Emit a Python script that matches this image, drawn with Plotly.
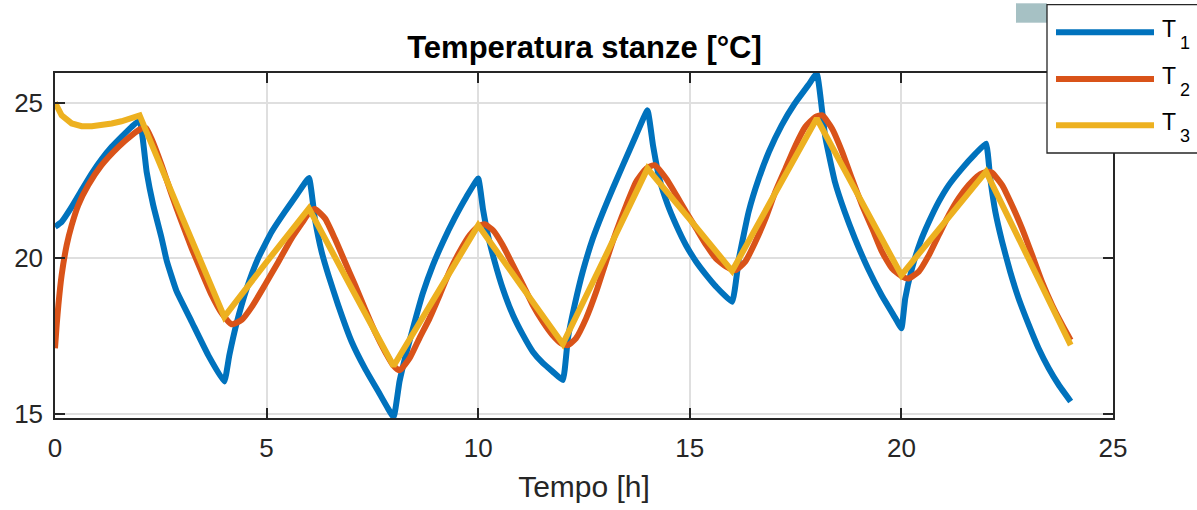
import plotly.graph_objects as go

# Room temperatures over one day (hours, degrees C)
t1 = [0, 0.157, 0.394, 0.63, 0.866, 1.10, 1.34, 1.57, 1.81, 2.0,
      2.165, 2.32, 2.52, 2.64, 2.87, 3.23, 3.62, 4.0,
      4.12, 4.30, 4.53, 4.80, 5.12, 5.43, 5.71, 6.0,
      6.14, 6.30, 6.46, 6.69, 7.01, 7.32, 7.64, 8.0,
      8.14, 8.30, 8.50, 8.69, 8.93, 9.17, 9.44, 9.72, 10.0,
      10.11, 10.23, 10.39, 10.58, 10.82, 11.06, 11.29, 11.53, 11.76, 12.0,
      12.12, 12.28, 12.47, 12.71, 12.95, 13.18, 13.42, 13.73, 14.0,
      14.13, 14.28, 14.48, 14.68, 14.91, 15.15, 15.39, 15.62, 16.0,
      16.16, 16.39, 16.63, 16.87, 17.17, 17.48, 17.80, 18.0,
      18.20, 18.43, 18.66, 18.90, 19.21, 19.53, 19.86, 20.0,
      20.09, 20.25, 20.45, 20.65, 20.88, 21.12, 21.43, 21.75, 22.0,
      22.10, 22.22, 22.38, 22.57, 22.77, 23.01, 23.24, 23.48, 23.72, 24.0]
T1 = [21.01, 21.17, 21.65, 22.19, 22.72, 23.18, 23.58, 23.90, 24.22, 24.43,
      22.78, 21.71, 20.64, 19.92, 18.95, 17.96, 16.89, 16.04,
      16.89, 17.96, 19.03, 20.0, 20.85, 21.49, 22.03, 22.58,
      21.28, 20.21, 19.46, 18.50, 17.32, 16.47, 15.72, 14.91,
      16.04, 16.95, 17.96, 18.87, 19.78, 20.53, 21.28, 21.97, 22.56,
      21.60, 20.74, 19.89, 19.03, 18.18, 17.53, 17.0, 16.63, 16.36, 16.09,
      17.43, 18.50, 19.57, 20.64, 21.49, 22.24, 22.99, 23.95, 24.75,
      23.63, 22.56, 21.71, 21.06, 20.42, 19.89, 19.46, 19.09, 18.60,
      19.99, 21.49, 22.56, 23.42, 24.27, 24.97, 25.56, 25.93,
      23.90, 22.45, 21.49, 20.64, 19.67, 18.82, 18.07, 17.75,
      18.71, 19.67, 20.53, 21.17, 21.81, 22.35, 22.88, 23.36, 23.68,
      22.56, 21.49, 20.53, 19.57, 18.71, 17.86, 17.11, 16.47, 15.93, 15.40]

t2 = [0, 0.04, 0.08, 0.157, 0.276, 0.394, 0.55, 0.787, 1.10, 1.50, 1.81, 2.05, 2.15,
      2.28, 2.52, 2.76, 2.99, 3.23, 3.46, 3.70, 3.94, 4.17,
      4.41, 4.65, 4.96, 5.28, 5.59, 5.83, 6.02, 6.14,
      6.38, 6.61, 6.85, 7.09, 7.32, 7.56, 7.80, 8.0, 8.14,
      8.38, 8.61, 8.85, 9.09, 9.32, 9.56, 9.80, 10.0, 10.15,
      10.35, 10.58, 10.82, 11.06, 11.29, 11.53, 11.76, 11.96, 12.12,
      12.31, 12.55, 12.79, 13.02, 13.26, 13.50, 13.73, 13.97, 14.17,
      14.44, 14.68, 14.91, 15.15, 15.39, 15.62, 15.86, 16.08,
      16.31, 16.55, 16.79, 17.02, 17.26, 17.50, 17.73, 17.97, 18.13,
      18.36, 18.60, 18.83, 19.07, 19.31, 19.54, 19.78, 20.02, 20.17,
      20.41, 20.65, 20.88, 21.12, 21.35, 21.59, 21.83, 22.02, 22.14,
      22.38, 22.61, 22.85, 23.09, 23.32, 23.56, 23.80, 24.0]
T2 = [17.11, 17.86, 18.50, 19.46, 20.42, 21.06, 21.71, 22.35, 22.99, 23.58, 23.95, 24.17, 24.18,
      23.84, 22.99, 22.03, 21.17, 20.32, 19.57, 18.82, 18.23, 17.88,
      18.02, 18.44, 19.14, 19.89, 20.64, 21.12, 21.49, 21.58,
      21.28, 20.64, 19.89, 19.14, 18.39, 17.64, 17.0, 16.55, 16.40,
      16.79, 17.43, 18.07, 18.82, 19.57, 20.21, 20.74, 21.01, 21.09,
      20.90, 20.42, 19.78, 19.14, 18.50, 17.96, 17.53, 17.27, 17.21,
      17.43, 18.07, 18.93, 19.89, 20.85, 21.71, 22.45, 22.88, 22.99,
      22.56, 22.03, 21.49, 20.96, 20.42, 19.99, 19.73, 19.62,
      19.89, 20.53, 21.28, 22.13, 22.88, 23.63, 24.22, 24.54, 24.59,
      24.17, 23.42, 22.56, 21.71, 20.96, 20.21, 19.67, 19.41, 19.35,
      19.57, 20.10, 20.74, 21.39, 21.92, 22.35, 22.67, 22.78, 22.75,
      22.35, 21.71, 20.96, 20.10, 19.25, 18.50, 17.86, 17.37]

t3 = [0, 0.157, 0.394, 0.63, 0.87, 1.10, 1.34, 1.57, 1.81, 2.0,
      3.0, 4.0, 5.0, 6.0, 7.0, 8.0, 9.0, 10.0, 11.0, 12.0, 13.0, 14.0,
      15.0, 16.0, 17.0, 18.0, 19.0, 20.0, 21.0, 22.0, 23.0, 24.0]
T3 = [25.0, 24.59, 24.33, 24.24, 24.24, 24.27, 24.33, 24.40, 24.49, 24.59,
      21.33, 18.12, 19.88, 21.6, 19.06, 16.54, 18.8, 21.06, 19.15, 17.25, 20.05, 22.88,
      21.25, 19.59, 22.05, 24.49, 21.97, 19.46, 21.12, 22.78, 20.0, 17.21]

names = ["T", "T", "T"]
subs = ["1", "2", "3"]
colors = ["#0072BD", "#D95319", "#EDB120"]

W, H = 1197, 510
ML, MR, MT, MB = 55, 84, 73, 92
PW, PH = W - ML - MR, H - MT - MB


def px(x):
    return (x - ML) / PW


def py(y):
    return (H - MB - y) / PH


FONT = "Liberation Sans, Arial, Helvetica, sans-serif"
INK = "#262626"
LW = 6

fig = go.Figure()
fig.add_trace(go.Scatter(x=t1, y=T1, mode="lines", name="T1",
                         line=dict(color=colors[0], width=LW, shape="spline", smoothing=0.35)))
fig.add_trace(go.Scatter(x=t2, y=T2, mode="lines", name="T2",
                         line=dict(color=colors[1], width=LW, shape="spline", smoothing=0.5)))
fig.add_trace(go.Scatter(x=t3, y=T3, mode="lines", name="T3",
                         line=dict(color=colors[2], width=LW)))

axis_common = dict(
    showline=True, linecolor=INK, linewidth=1.5, mirror="ticks",
    ticks="inside", ticklen=10, tickwidth=1.5, tickcolor=INK,
    showgrid=True, gridcolor="#dfdfdf", gridwidth=1.5, zeroline=False,
    tickfont=dict(family=FONT, size=26, color=INK),
)

fig.update_xaxes(range=[0, 25], tick0=0, dtick=5, ticklabelstandoff=6, **axis_common,
                 title=dict(text="Tempo [h]", font=dict(family=FONT, size=30, color=INK),
                            standoff=14))
fig.update_yaxes(range=[14.87, 25.95], tickvals=[15, 20, 25], ticklabelstandoff=5,
                 **axis_common)

shapes = []
# small toolbar-coloured patch at the top right
shapes.append(dict(type="rect", xref="paper", yref="paper",
                   x0=px(1016), x1=px(1047), y0=py(22.7), y1=py(3.3),
                   fillcolor="#a6c1c4", line=dict(width=0), layer="above"))
# legend box
shapes.append(dict(type="rect", xref="paper", yref="paper",
                   x0=px(1047), x1=px(1210), y0=py(153), y1=py(4.7),
                   fillcolor="white", line=dict(color=INK, width=1.3), layer="above"))
annotations = []
legend_y = [32.3, 79.0, 125.3]
for i in range(3):
    shapes.append(dict(type="line", xref="paper", yref="paper",
                       x0=px(1056), x1=px(1154), y0=py(legend_y[i]), y1=py(legend_y[i]),
                       line=dict(color=colors[i], width=LW), layer="above"))
    annotations.append(dict(text=names[i], xref="paper", yref="paper",
                            x=px(1160), y=py(legend_y[i] - 3.5), xanchor="left", yanchor="middle",
                            showarrow=False, font=dict(family=FONT, size=23, color="black")))
    annotations.append(dict(text=subs[i], xref="paper", yref="paper",
                            x=px(1178), y=py(legend_y[i] + 11), xanchor="left", yanchor="middle",
                            showarrow=False, font=dict(family=FONT, size=18, color="black")))

fig.update_layout(
    width=W, height=H,
    margin=dict(l=ML, r=MR, t=MT, b=MB),
    paper_bgcolor="white", plot_bgcolor="white",
    showlegend=False,
    title=dict(text="Temperatura stanze [°C]", xref="paper", x=px(584.5), xanchor="center",
               y=1 - 47 / H, yanchor="middle", yref="container",
               font=dict(family=FONT, size=31, color="black", weight="bold")),
    shapes=shapes, annotations=annotations,
)

fig.write_html("out.html")
